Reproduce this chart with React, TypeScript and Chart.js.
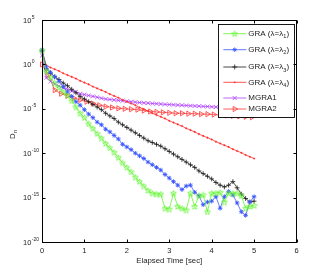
import React, { useEffect, useRef } from 'react';
import { Chart, registerables } from 'chart.js';

Chart.register(...registerables);

// ---- data (values are log10(D_n)) ----
const timeSec = [
  0, 0.1, 0.2, 0.3, 0.4, 0.5, 0.6, 0.7, 0.8, 0.9,
  1.0, 1.1, 1.2, 1.3, 1.4, 1.5, 1.6, 1.7, 1.8, 1.9,
  2.0, 2.1, 2.2, 2.3, 2.4, 2.5, 2.6, 2.7, 2.8, 2.9,
  3.0, 3.1, 3.2, 3.3, 3.4, 3.5, 3.6, 3.7, 3.8, 3.9,
  4.0, 4.1, 4.2, 4.3, 4.4, 4.5, 4.6, 4.7, 4.8, 4.9,
  5.0,
];

const graLambda1Log = [
  1.6, -0.8, -1.5, -2.1, -2.6, -3.1, -3.5, -4.1, -4.8, -5.5,
  -6.0, -6.7, -7.2, -7.8, -8.3, -8.9, -9.4, -9.9, -10.5, -11.1,
  -11.6, -12.1, -12.7, -13.2, -13.7, -14.2, -14.5, -14.6, -14.6, -16.2,
  -16.3, -14.5, -16.0, -16.2, -16.4, -14.5, -16.0, -14.8, -14.7, -16.6,
  -14.5, -14.5, -14.4, -15.5, -14.5, -14.5, -14.5, -14.8, -16.2, -16.0,
  -15.9,
];

const graLambda2Log = [
  1.6, -0.3, -0.9, -1.4, -1.9, -2.5, -3.1, -3.6, -4.2, -4.6,
  -5.1, -5.6, -6.0, -6.5, -6.8, -7.3, -7.6, -8.0, -8.4, -9.0,
  -9.3, -9.6, -10.0, -10.3, -10.6, -11.0, -11.3, -11.6, -11.9, -12.4,
  -12.8, -13.2, -13.6, -14.1, -13.7, -13.6, -14.4, -14.8, -15.8, -15.5,
  -15.4, -14.9, -16.2, -14.9, -14.3, -14.7, -15.6, -16.6, -17.0, -15.5,
  -14.9,
];

const graLambda3Log = [
  1.5, -0.5, -1.0, -1.4, -1.7, -2.1, -2.4, -2.8, -3.2, -3.6,
  -3.9, -4.2, -4.5, -4.8, -5.1, -5.5, -5.8, -6.1, -6.5, -6.8,
  -7.1, -7.4, -7.7, -8.0, -8.3, -8.6, -8.8, -9.0, -9.2, -9.5,
  -9.8, -10.1, -10.4, -10.7, -11.0, -11.3, -11.6, -12.0, -12.3, -12.6,
  -12.9, -13.3, -13.6, -13.8, -13.6, -13.2, -13.9, -14.6, -15.1, -15.5,
  -15.4,
];

const graLambda4Log = [
  1.6, -0.1, -0.35, -0.55, -0.75, -1.0, -1.2, -1.4, -1.6, -1.85,
  -2.05, -2.25, -2.5, -2.7, -2.9, -3.1, -3.35, -3.55, -3.75, -4.0,
  -4.2, -4.4, -4.6, -4.85, -5.05, -5.25, -5.5, -5.7, -5.9, -6.1,
  -6.35, -6.55, -6.75, -6.95, -7.2, -7.4, -7.6, -7.85, -8.05, -8.25,
  -8.45, -8.7, -8.9, -9.1, -9.3, -9.55, -9.75, -9.95, -10.2, -10.4,
  -10.6,
];

const mgra1Log = [
  1.0, -1.5, -1.9, -2.2, -2.45, -2.65, -2.8, -3.0, -3.1, -3.3,
  -3.4, -3.5, -3.6, -3.7, -3.8, -3.9, -3.95, -4.0, -4.05, -4.1,
  -4.15, -4.2, -4.25, -4.3, -4.33, -4.36, -4.4, -4.43, -4.46, -4.5,
  -4.52, -4.55, -4.58, -4.6, -4.63, -4.66, -4.68, -4.7, -4.73, -4.75,
  -4.78, -4.8, -4.82, -4.85, -4.87, -4.9, -4.92, -4.94, -4.96, -4.98,
  -5.0,
];

const mgra2Time = [
  0, 0.15, 0.3, 0.45, 0.6, 0.75, 0.9, 1.05, 1.2, 1.35,
  1.5, 1.65, 1.8, 1.95, 2.1, 2.25, 2.4, 2.55, 2.7, 2.85,
  3.0, 3.15, 3.3, 3.45, 3.6, 3.75, 3.9, 4.05, 4.2, 4.35,
  4.5, 4.65, 4.8, 4.95,
];

const mgra2Log = [
  0.0, -1.2, -2.9, -3.3, -3.55, -3.8, -4.0, -4.2, -4.4, -4.6,
  -4.75, -4.85, -4.95, -5.0, -5.05, -5.1, -5.2, -5.3, -5.35, -5.4,
  -5.45, -5.5, -5.5, -5.55, -5.55, -5.6, -5.6, -5.65, -5.7, -5.75,
  -5.8, -5.85, -5.9, -5.95,
];

const xTickValues = [0, 1, 2, 3, 4, 5, 6];
const yTickExponents = [5, 0, -5, -10, -15, -20];

const seriesLabels = [
  { main: 'GRA (λ=λ', sub: '1', tail: ')' },
  { main: 'GRA (λ=λ', sub: '2', tail: ')' },
  { main: 'GRA (λ=λ', sub: '3', tail: ')' },
  { main: 'GRA (λ=λ', sub: '4', tail: ')' },
  { main: 'MGRA1', sub: '', tail: '' },
  { main: 'MGRA2', sub: '', tail: '' },
];

const xTitle = 'Elapsed Time [sec]';
const yTitleMain = 'D';
const yTitleSub = 'n';

// ---- styles ----
const COLORS = ['#5cf52a', '#3a55ff', '#1a1a1a', '#ff2a2a', '#b040ff', '#ff3535'];
const MARKERS = ['pent', 'star', 'cross', 'dot', 'x', 'tri'];
const FONT = '"Liberation Sans", Arial, Helvetica, sans-serif';
const legendRowOffsets = [9.7, 25.7, 43, 58.3, 74, 85];

function makePentagram(color: string, size: number) {
  const c = document.createElement('canvas');
  c.width = size;
  c.height = size;
  const g = c.getContext('2d')!;
  const cx = size / 2, cy = size / 2 + 0.3;
  const R = size / 2 - 0.5, r = R * 0.42;
  g.beginPath();
  for (let i = 0; i < 10; i++) {
    const ang = -Math.PI / 2 + (i * Math.PI) / 5;
    const rad = i % 2 === 0 ? R : r;
    const px = cx + rad * Math.cos(ang), py = cy + rad * Math.sin(ang);
    if (i === 0) g.moveTo(px, py); else g.lineTo(px, py);
  }
  g.closePath();
  g.strokeStyle = color;
  g.lineWidth = 0.8;
  g.stroke();
  return c;
}

function toPoints(ts: number[], logs: number[]) {
  return ts.map((t, i) => ({ x: t, y: Math.pow(10, logs[i]) }));
}

function drawMarker(ctx: CanvasRenderingContext2D, kind: string, x: number, y: number, color: string, img: HTMLCanvasElement) {
  ctx.save();
  ctx.strokeStyle = color;
  ctx.fillStyle = color;
  ctx.lineWidth = 0.8;
  ctx.beginPath();
  if (kind === 'pent') {
    ctx.drawImage(img, x - img.width / 2, y - img.height / 2);
  } else if (kind === 'star') {
    const r = 2.3, d = r * 0.707;
    ctx.moveTo(x - r, y); ctx.lineTo(x + r, y);
    ctx.moveTo(x, y - r); ctx.lineTo(x, y + r);
    ctx.moveTo(x - d, y - d); ctx.lineTo(x + d, y + d);
    ctx.moveTo(x - d, y + d); ctx.lineTo(x + d, y - d);
    ctx.stroke();
  } else if (kind === 'cross') {
    const r = 2.5;
    ctx.moveTo(x - r, y); ctx.lineTo(x + r, y);
    ctx.moveTo(x, y - r); ctx.lineTo(x, y + r);
    ctx.stroke();
  } else if (kind === 'dot') {
    ctx.arc(x, y, 0.9, 0, Math.PI * 2);
    ctx.fill();
  } else if (kind === 'x') {
    const d = 2;
    ctx.moveTo(x - d, y - d); ctx.lineTo(x + d, y + d);
    ctx.moveTo(x - d, y + d); ctx.lineTo(x + d, y - d);
    ctx.stroke();
  } else if (kind === 'tri') {
    const r = 3;
    ctx.moveTo(x + r, y);
    ctx.lineTo(x - r * 0.5, y - r * 0.866);
    ctx.lineTo(x - r * 0.5, y + r * 0.866);
    ctx.closePath();
    ctx.stroke();
  }
  ctx.restore();
}

export default function App() {
  const ref = useRef<HTMLCanvasElement>(null);

  useEffect(() => {
    if (!ref.current) return;
    const pent = makePentagram(COLORS[0], 7);

    const seriesLogs = [graLambda1Log, graLambda2Log, graLambda3Log, graLambda4Log, mgra1Log, mgra2Log];
    const seriesTimes = [timeSec, timeSec, timeSec, timeSec, timeSec, mgra2Time];

    const pointConf: any[] = [
      { pointStyle: pent, pointRadius: 3.5, pointBorderWidth: 0.8 },
      { pointStyle: 'star', pointRadius: 2.3, pointBorderWidth: 0.9 },
      { pointStyle: 'cross', pointRadius: 2.4, pointBorderWidth: 0.8 },
      { pointStyle: 'circle', pointRadius: 0.8, pointBorderWidth: 0.4 },
      { pointStyle: 'crossRot', pointRadius: 2.7, pointBorderWidth: 0.8 },
      { pointStyle: 'triangle', pointRadius: 3, pointRotation: 90, pointBorderWidth: 0.8 },
    ];

    const datasets = seriesLogs.map((logs, i) => ({
      label: seriesLabels[i].main + seriesLabels[i].sub + seriesLabels[i].tail,
      data: toPoints(seriesTimes[i], logs),
      borderColor: COLORS[i],
      borderWidth: 0.75,
      pointBorderColor: COLORS[i],
      pointBackgroundColor: i === 3 ? COLORS[i] : 'rgba(0,0,0,0)',
      tension: 0,
      clip: false as any,
      ...pointConf[i],
    }));

    const axesPlugin = {
      id: 'matlabAxes',
      afterDatasetsDraw(chart: any) {
        const { ctx, chartArea: a, scales } = chart;
        const xs = scales.x, ys = scales.y;
        ctx.save();

        // legend box
        const lx = a.right - 78.5, ly = a.top + 4, lw = 76, lh = 93.3;
        ctx.fillStyle = '#fff';
        ctx.fillRect(lx, ly, lw, lh);
        ctx.strokeStyle = '#000';
        ctx.lineWidth = 0.9;
        ctx.strokeRect(Math.round(lx) + 0.5, Math.round(ly) + 0.5, Math.round(lw), Math.round(lh));
        seriesLabels.forEach((lab, i) => {
          const y = ly + legendRowOffsets[i];
          ctx.strokeStyle = COLORS[i];
          ctx.lineWidth = 0.8;
          ctx.beginPath();
          ctx.moveTo(lx + 5.3, y);
          ctx.lineTo(lx + 28.3, y);
          ctx.stroke();
          drawMarker(ctx, MARKERS[i], lx + 16.7, y, COLORS[i], pent);
          ctx.fillStyle = '#222';
          ctx.textBaseline = 'middle';
          ctx.textAlign = 'left';
          ctx.font = `8px ${FONT}`;
          let tx = lx + 30.3;
          ctx.fillText(lab.main, tx, y);
          tx += ctx.measureText(lab.main).width;
          if (lab.sub) {
            ctx.font = `5.5px ${FONT}`;
            ctx.fillText(lab.sub, tx, y + 3);
            tx += ctx.measureText(lab.sub).width + 0.3;
            ctx.font = `8px ${FONT}`;
            ctx.fillText(lab.tail, tx, y);
          }
        });

        // axes box
        const L = Math.round(a.left) + 0.5, R = Math.round(a.right) - 0.5;
        const T = Math.round(a.top) + 0.5, B = Math.round(a.bottom) + 0.5;
        ctx.strokeStyle = '#000';
        ctx.lineWidth = 1;
        ctx.strokeRect(L, T, R - L, B - T);

        const tl = 3;
        ctx.beginPath();
        xTickValues.forEach((v) => {
          const px = Math.round(xs.getPixelForValue(v)) + 0.5;
          ctx.moveTo(px, B); ctx.lineTo(px, B - tl);
          ctx.moveTo(px, T); ctx.lineTo(px, T + tl);
        });
        yTickExponents.forEach((e) => {
          const py = Math.round(ys.getPixelForValue(Math.pow(10, e))) + 0.5;
          ctx.moveTo(L, py); ctx.lineTo(L + tl, py);
          ctx.moveTo(R, py); ctx.lineTo(R - tl, py);
        });
        ctx.stroke();

        // tick labels
        ctx.fillStyle = '#222';
        ctx.textBaseline = 'middle';
        ctx.textAlign = 'center';
        ctx.font = `7.5px ${FONT}`;
        xTickValues.forEach((v) => {
          ctx.fillText(String(v), xs.getPixelForValue(v), a.bottom + 8.5);
        });
        yTickExponents.forEach((e) => {
          const py = ys.getPixelForValue(Math.pow(10, e));
          ctx.textAlign = 'left';
          ctx.font = `7.5px ${FONT}`;
          ctx.fillText('10', 23, py + 0.5);
          ctx.font = `5px ${FONT}`;
          ctx.fillText(String(e), 31.8, py - 2.8);
        });

        // axis titles
        ctx.font = `7.8px ${FONT}`;
        ctx.textAlign = 'center';
        ctx.fillText(xTitle, (a.left + a.right) / 2, a.bottom + 19);

        ctx.save();
        ctx.translate(14.5, 139);
        ctx.rotate(-Math.PI / 2);
        ctx.textAlign = 'left';
        ctx.textBaseline = 'alphabetic';
        ctx.font = `7.8px ${FONT}`;
        ctx.fillText(yTitleMain, 0, 0);
        const w = ctx.measureText(yTitleMain).width;
        ctx.font = `5.5px ${FONT}`;
        ctx.fillText(yTitleSub, w + 0.3, 2);
        ctx.restore();

        ctx.restore();
      },
    };

    const chart = new Chart(ref.current, {
      type: 'line',
      data: { datasets: datasets as any },
      options: {
        animation: false,
        responsive: false,
        devicePixelRatio: 1,
        layout: { padding: { left: 0, right: 30.5, top: 20, bottom: 0 } },
        plugins: { legend: { display: false }, tooltip: { enabled: false } },
        scales: {
          x: {
            type: 'linear', min: 0, max: 6,
            grid: { display: false }, border: { display: false },
            ticks: { display: false },
            afterFit: (s: any) => { s.height = 31; },
          },
          y: {
            type: 'logarithmic', min: 1e-20, max: 1e5,
            grid: { display: false }, border: { display: false },
            ticks: { display: false },
            afterFit: (s: any) => { s.width = 42; },
          },
        },
      } as any,
      plugins: [axesPlugin],
    });
    return () => chart.destroy();
  }, []);

  return (
    <div style={{ position: 'absolute', left: 0, top: 0, width: 327, height: 273, background: '#fff' }}>
      <canvas ref={ref} width={327} height={273} style={{ display: 'block', width: 327, height: 273 }} />
    </div>
  );
}
